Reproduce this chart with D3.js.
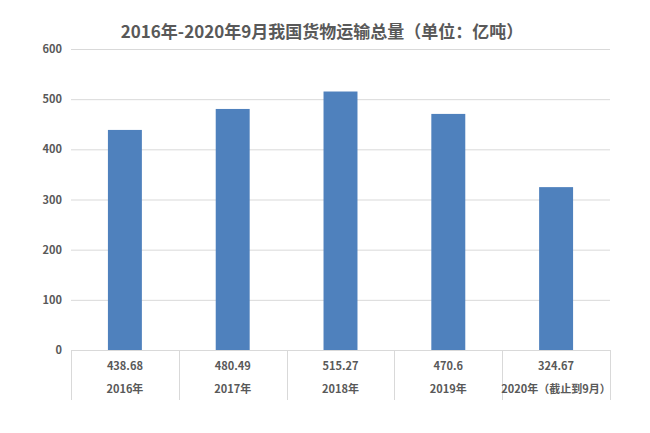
<!doctype html>
<html lang="zh">
<head>
  <meta charset="utf-8">
  <script src="https://d3js.org/d3.v7.min.js"></script>
  <style>
    body { margin: 0; background: #fff; }
    text { font-family: "Liberation Sans Narrow", "Noto Sans CJK SC", sans-serif; }
  </style>
</head>
<body>
  <div id="chart"></div>
  <script>
  // data
  var categories = ["2016年", "2017年", "2018年", "2019年", "2020年（截止到9月）"];
  var values = [438.68, 480.49, 515.27, 470.6, 324.67];
  var valueLabels = ["438.68", "480.49", "515.27", "470.6", "324.67"];
  var yTicks = [0, 100, 200, 300, 400, 500, 600];

  var width = 650, height = 433;
  var margin = {top: 49, left: 71, right: 40, bottom: 83};
  var plotW = width - margin.left - margin.right;
  var plotH = height - margin.top - margin.bottom;

  var svg = d3.select("#chart").append("svg")
      .attr("width", width)
      .attr("height", height);

  svg.append("text")
     .attr("x", 322)
     .attr("y", 38)
     .attr("text-anchor", "middle")
     .attr("fill", "#595959")
     .style("font-family", "'Noto Sans CJK SC', sans-serif")
     .style("font-size", "17px")
     .style("font-weight", "bold")
     .text("2016年-2020年9月我国货物运输总量（单位：亿吨）");

  var g = svg.append("g")
      .attr("transform", "translate(" + margin.left + "," + margin.top + ")");

  var x = d3.scaleBand()
            .domain(categories)
            .range([0, plotW]);

  var y = d3.scaleLinear()
            .domain([0, 600])
            .range([plotH, 0]);

  // gridlines
  g.selectAll("line.grid")
   .data(yTicks)
   .enter()
   .append("line")
   .attr("class", "grid")
   .attr("x1", 0)
   .attr("x2", plotW)
   .attr("y1", function(d) { return y(d) + 0.5; })
   .attr("y2", function(d) { return y(d) + 0.5; })
   .attr("stroke", "#d9d9d9");

  // y axis labels
  var yAxis = g.append("g")
      .call(d3.axisLeft(y).tickValues(yTicks).tickSize(0).tickPadding(9));
  yAxis.select(".domain").remove();
  yAxis.selectAll("text")
       .attr("fill", "#595959")
       .style("font-size", "11px")
       .style("font-weight", "bold");

  // bars
  var barW = x.bandwidth() * 0.315;
  g.selectAll("rect.bar")
   .data(values)
   .enter()
   .append("rect")
   .attr("class", "bar")
   .attr("x", function(d, i) { return x(categories[i]) + (x.bandwidth() - barW) / 2; })
   .attr("y", function(d) { return y(d); })
   .attr("width", barW)
   .attr("height", function(d) { return plotH - y(d); })
   .attr("fill", "#4f81bd");

  // data table under the axis
  var tableH = 50;
  var sepX = categories.map(function(c) { return x(c); }).concat([plotW]);
  g.selectAll("line.sep")
   .data(sepX)
   .enter()
   .append("line")
   .attr("class", "sep")
   .attr("x1", function(d) { return Math.round(d) + 0.5; })
   .attr("x2", function(d) { return Math.round(d) + 0.5; })
   .attr("y1", plotH)
   .attr("y2", plotH + tableH)
   .attr("stroke", "#d9d9d9");

  g.selectAll("text.val")
   .data(valueLabels)
   .enter()
   .append("text")
   .attr("class", "val")
   .attr("x", function(d, i) { return x(categories[i]) + x.bandwidth() / 2; })
   .attr("y", plotH + 20)
   .attr("text-anchor", "middle")
   .attr("fill", "#595959")
   .style("font-size", "11px")
   .style("font-weight", "bold")
   .text(function(d) { return d; });

  g.selectAll("text.cat")
   .data(categories)
   .enter()
   .append("text")
   .attr("class", "cat")
   .attr("x", function(d) { return x(d) + x.bandwidth() / 2; })
   .attr("y", plotH + 43)
   .attr("text-anchor", "middle")
   .attr("fill", "#595959")
   .style("font-size", "11px")
   .style("font-weight", "bold")
   .text(function(d) { return d; });

  // axis baseline
  g.append("line")
   .attr("x1", 0)
   .attr("x2", plotW)
   .attr("y1", plotH + 0.5)
   .attr("y2", plotH + 0.5)
   .attr("stroke", "#d9d9d9");
  </script>
</body>
</html>
